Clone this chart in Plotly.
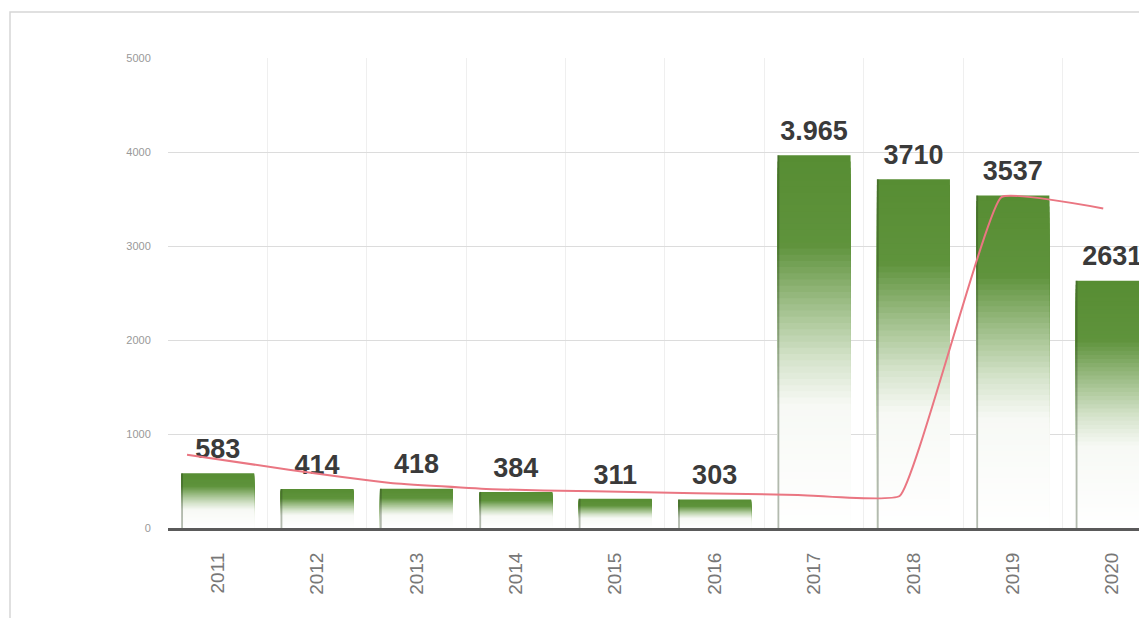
import plotly.graph_objects as go
from plotly.colors import sample_colorscale

# ---- data ----
years = ["2011", "2012", "2013", "2014", "2015", "2016", "2017", "2018", "2019", "2020"]
bar_values = [583, 414, 418, 384, 311, 303, 3965, 3710, 3537, 2631]
bar_labels = ["583", "414", "418", "384", "311", "303", "3.965", "3710", "3537", "2631"]
line_values = [780, 620, 480, 412, 390, 370, 352, 340, 3520, 3400]
y_ticks = [0, 1000, 2000, 3000, 4000, 5000]

# gradient from bottom (0) to top (1) of each bar
grad_scale = [
    [0.0, "#ffffff"],
    [0.33, "#f7f9f5"],
    [0.45, "#d6e4cc"],
    [0.60, "#9ebe88"],
    [0.76, "#5f933c"],
    [1.0, "#578d33"],
]

fig = go.Figure()

N = 60
bar_w = 0.735
for k in range(N):
    frac = (N - k) / N
    col = sample_colorscale(grad_scale, [frac - 0.5 / N])[0]
    fig.add_trace(go.Bar(
        x=years, y=[v * frac for v in bar_values], base=0,
        width=bar_w, marker=dict(color=col, line=dict(width=0)),
        hoverinfo="skip", showlegend=False,
    ))

# thin darker left edge of each bar
fig.add_trace(go.Bar(
    x=years, y=bar_values, base=0, width=0.018, offset=-bar_w / 2,
    marker=dict(color="rgba(40,60,30,0.35)", line=dict(width=0)),
    hoverinfo="skip", showlegend=False,
))

# trend line
fig.add_trace(go.Scatter(
    x=years, y=line_values, xaxis="x2", mode="lines",
    line=dict(color="#ea7682", width=2, shape="spline", smoothing=0.3),
    showlegend=False, hoverinfo="skip",
))

# value labels
fig.add_trace(go.Scatter(
    x=years, y=bar_values, mode="markers+text", text=bar_labels,
    textposition="top center",
    marker=dict(size=12, color="rgba(0,0,0,0)"),
    textfont=dict(family="Liberation Sans Narrow, Arial Narrow, Liberation Sans", size=27,
                  color="#3a3a3a", weight="bold"),
    cliponaxis=False, showlegend=False, hoverinfo="skip",
))

W, H = 1139, 610
plot_l, plot_w = 160, 979
plot_b, plot_h = 520, 470
fig.add_shape(
    type="rect", xref="paper", yref="paper",
    x0=(2 - plot_l) / plot_w, x1=(1160 - plot_l) / plot_w,
    y0=(plot_b - 640) / plot_h, y1=(plot_b - 4) / plot_h,
    line=dict(color="#d6d6d6", width=1.5), fillcolor="rgba(0,0,0,0)", layer="below",
)

fig.update_layout(
    width=W, height=H,
    margin=dict(l=plot_l, r=0, t=50, b=H - plot_b),
    paper_bgcolor="white", plot_bgcolor="white",
    barmode="overlay", showlegend=False,
    xaxis=dict(
        type="category", categoryarray=years, range=[-0.5, 9.35],
        tickangle=-90, tickfont=dict(family="Liberation Sans", size=19, color="#777777"),
        showline=True, linecolor="#5a5a5a", linewidth=3,
        showgrid=True, gridcolor="#efefef", tickson="boundaries",
        ticks="", ticklabelstandoff=14,
        zeroline=False,
    ),
    xaxis2=dict(
        type="category", categoryarray=years, overlaying="x", range=[-0.187, 9.43],
        visible=False,
    ),
    yaxis=dict(
        range=[0, 5000], tickvals=y_ticks,
        tickfont=dict(family="Liberation Sans", size=11, color="#999999"),
        showgrid=True, gridcolor="#dcdcdc", gridwidth=1,
        zeroline=False, showline=False,
        ticks="outside", ticklen=14, tickcolor="rgba(0,0,0,0)",
    ),
)

fig.write_html("out.html")
